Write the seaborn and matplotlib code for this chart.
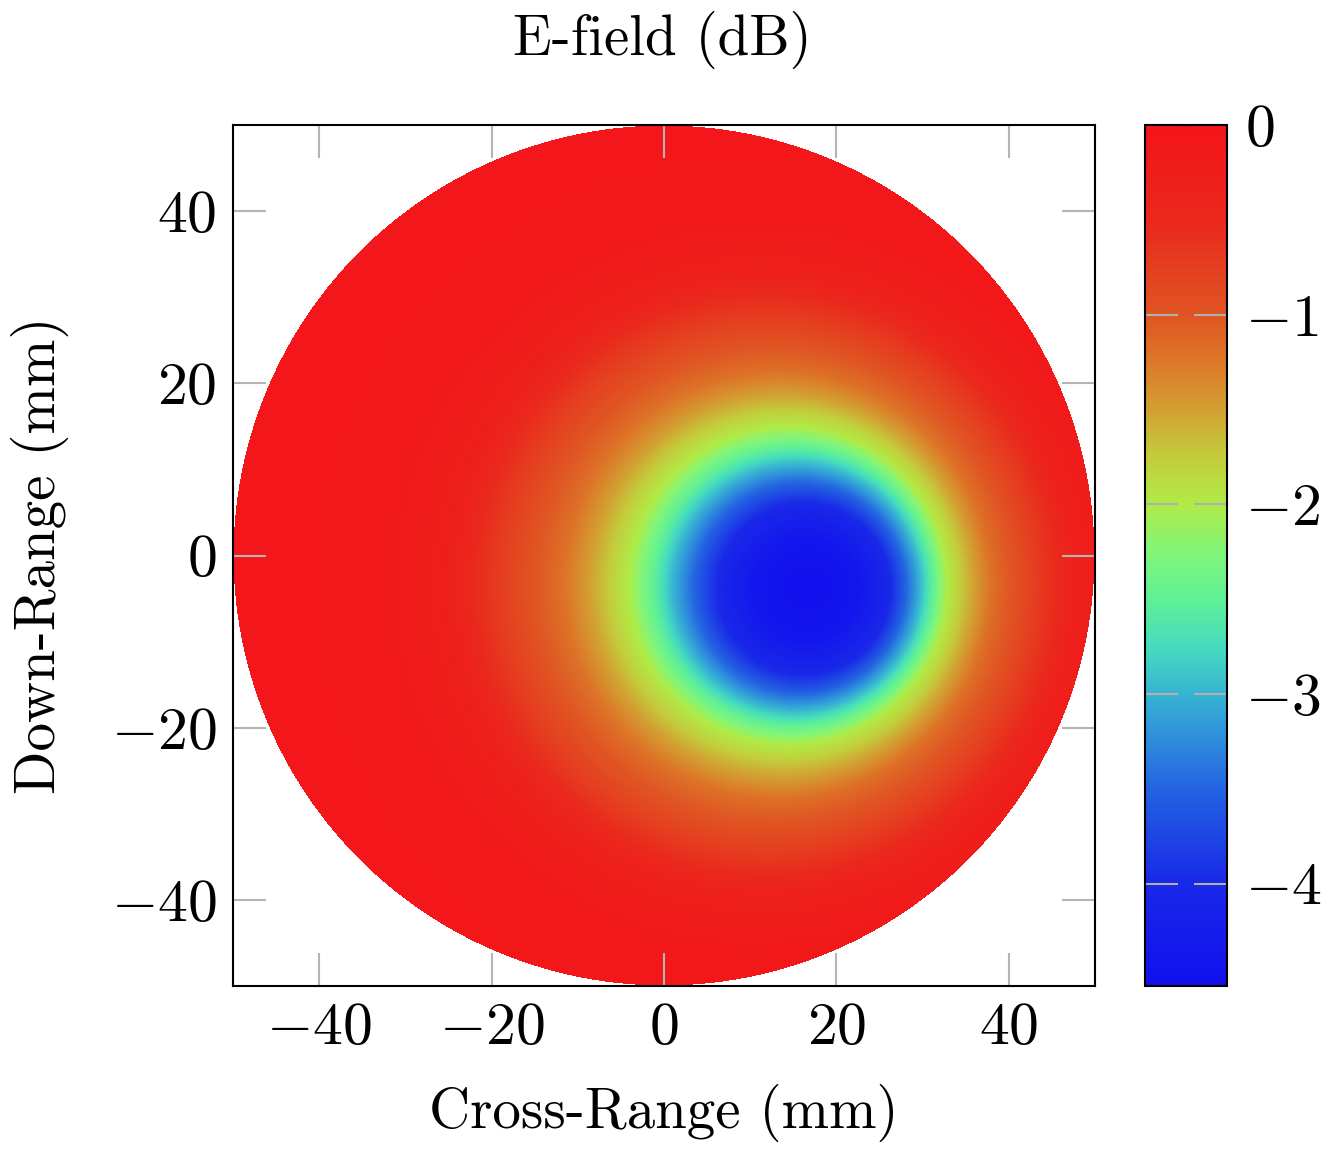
import numpy as np
import matplotlib
matplotlib.use("Agg")
import matplotlib.pyplot as plt
from matplotlib.colors import LinearSegmentedColormap
import seaborn as sns

plt.rcParams['font.family'] = 'cmr10'
plt.rcParams['mathtext.fontset'] = 'cm'
plt.rcParams['axes.unicode_minus'] = True

# ---- data ----
disk_radius_mm = 50.0
# iso-level circles: level (dB), centre (mm), radius (mm)
contour_db = [-4.55, -4.4, -4.0, -3.5, -3.0, -2.5, -2.0, -1.5, -1.2, -0.8, -0.3, -0.1, 0.0]
contour_cx_mm = [16.8, 16.6, 16.3, 15.8, 15.4, 15.0, 14.4, 13.7, 13.1, 12.2, 11.5, 10.0, 6.0]
contour_cy_mm = [-4.0, -4.0, -3.9, -3.8, -3.7, -3.6, -3.5, -3.5, -3.4, -3.4, -3.4, -3.4, -3.4]
contour_r_mm = [0.0, 6.0, 10.0, 12.3, 14.3, 16.2, 18.5, 22.3, 24.9, 30.3, 36.5, 44.0, 70.0]
x_ticks = [-40, -20, 0, 20, 40]
y_ticks = [-40, -20, 0, 20, 40]
cbar_ticks = [0, -1, -2, -3, -4]
vmin, vmax = -4.54, 0.0

# colormap stops (value in dB, colour)
cmap_vals = [0, -0.5, -1, -1.25, -1.5, -1.75, -2, -2.25, -2.5, -2.75, -3, -3.25, -3.5, -4, -4.54]
cmap_cols = [(244, 20, 26), (234, 40, 28), (224, 85, 35), (220, 120, 40), (210, 160, 50),
             (195, 205, 60), (175, 235, 70), (130, 245, 120), (95, 240, 150), (70, 220, 190),
             (55, 180, 210), (45, 140, 220), (35, 100, 225), (25, 40, 232), (18, 16, 238)]

stops = sorted(zip([(v - vmin) / (vmax - vmin) for v in cmap_vals],
                   [tuple(c / 255 for c in col) for col in cmap_cols]))
stops[0] = (0.0, stops[0][1]); stops[-1] = (1.0, stops[-1][1])
cmap = LinearSegmentedColormap.from_list('efield', stops, N=512)

# ---- build field grid from the nested iso-level circles ----
N = 862
xs = np.linspace(-50, 50, N)
ys = np.linspace(50, -50, N)
X, Y = np.meshgrid(xs, ys)
L = np.array(contour_db)
S = np.stack([np.hypot(X - cx, Y - cy) - r for cx, cy, r in
              zip(contour_cx_mm, contour_cy_mm, contour_r_mm)])   # >0 outside the circle
inside = S <= 0
k = np.argmax(inside, axis=0)
k = np.clip(k, 1, len(L) - 1)
s_in = np.take_along_axis(S, k[None], 0)[0]
s_out = np.take_along_axis(S, (k - 1)[None], 0)[0]
t = s_out / np.maximum(s_out - s_in, 1e-9)
field = L[k - 1] + np.clip(t, 0, 1) * (L[k] - L[k - 1])
field[~inside.any(axis=0)] = 0.0
mask = np.hypot(X, Y) > disk_radius_mm

W, H = 1341, 1152
fig = plt.figure(figsize=(W / 100, H / 100), dpi=100)
ax = fig.add_axes([233 / W, 1 - 986 / H, 862 / W, 861 / H])
cax = fig.add_axes([1145 / W, 1 - 986 / H, 82 / W, 861 / H])

sns.heatmap(field, mask=mask, cmap=cmap, vmin=vmin, vmax=vmax, ax=ax, cbar_ax=cax,
            xticklabels=False, yticklabels=False, rasterized=True)

ax.set_xlim(0, N)
ax.set_ylim(N, 0)
for s in ax.spines.values():
    s.set_visible(True)
    s.set_linewidth(1.5)
    s.set_color('black')

ax.set_xticks([(v + 50) / 100 * N for v in x_ticks])
ax.set_xticklabels([rf'${v}$' for v in x_ticks])
ax.set_yticks([(50 - v) / 100 * N for v in y_ticks])
ax.set_yticklabels([rf'${v}$' for v in y_ticks])
ax.tick_params(direction='in', top=True, right=True, bottom=True, left=True,
               length=24, width=1.5, color='#b4b4b4', labelsize=43, pad=12)
for lab in ax.get_xticklabels() + ax.get_yticklabels():
    lab.set_rotation(0)
ax.set_xlabel('Cross-Range (mm)', fontsize=41, va='center')
ax.xaxis.set_label_coords(0.5, (986 - 1113) / 861)
ax.set_ylabel('Down-Range (mm)', fontsize=41, va='center', ha='center')
ax.yaxis.set_label_coords((40 - 233) / 862, 0.5)

cb = ax.collections[0].colorbar
cb.outline.set_visible(True)
cb.outline.set_linewidth(1.5)
cb.outline.set_edgecolor('black')
cb.set_ticks(cbar_ticks)
cb.set_ticklabels([rf'${v}$' for v in cbar_ticks])
cax.minorticks_off()
cax.tick_params(direction='in', left=True, right=True, labelleft=False, labelright=True,
                length=24, width=1.5, color='#b0b0b0', labelsize=43, pad=13)

fig.text(662 / W, 1 - 40 / H, 'E-field (dB)', ha='center', va='center', fontsize=41)

fig.savefig('out.png', dpi=100, facecolor='white')
